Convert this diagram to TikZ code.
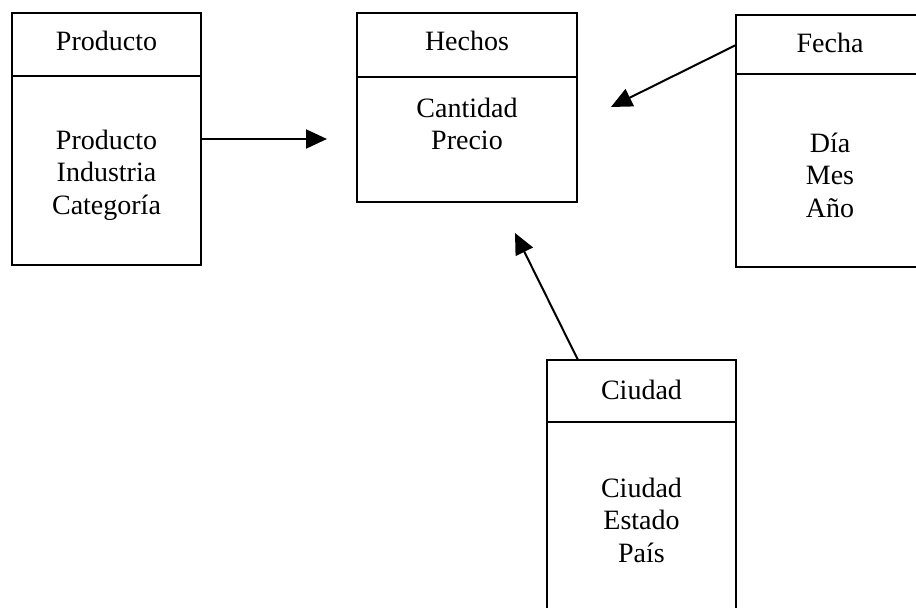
\documentclass[tikz,border=0pt]{standalone}
\usepackage{fontspec}
\setmainfont{Liberation Serif}
\usetikzlibrary{arrows.meta}
\begin{document}
\begin{tikzpicture}[x=0.5pt,y=-0.5pt,
  box/.style={draw=black,line width=1pt,inner sep=0pt,outer sep=0pt,rectangle},
  lbl/.style={inner sep=0pt,outer sep=0pt,font=\fontsize{14pt}{16.25pt}\selectfont},
  body/.style={lbl,align=center,anchor=north},
  divline/.style={line width=1pt},
  arr/.style={line width=1pt,-{Triangle[length=10.5pt,width=9.5pt]}}]
\useasboundingbox (0,0) rectangle (916,608);
\clip (0,0) rectangle (916,608);
% boxes
\node[box,minimum width=94.5pt,minimum height=126pt] (prod) at (106.5,139) {};
\node[box,minimum width=110pt,minimum height=94.5pt] (hech) at (467,107.5) {};
\node[box,minimum width=94pt,minimum height=126pt] (fech) at (830,141) {};
\node[box,minimum width=94.5pt,minimum height=126pt] (ciud) at (641.5,486) {};
% dividers
\draw[divline] (prod.west |- 0,76) -- (prod.east |- 0,76);
\draw[divline] (hech.west |- 0,77) -- (hech.east |- 0,77);
\draw[divline] (fech.west |- 0,74) -- (fech.east |- 0,74);
\draw[divline] (ciud.west |- 0,422) -- (ciud.east |- 0,422);
% headers
\node[lbl,anchor=base] (prodh) at (106.5,51) {Producto};
\node[lbl,anchor=base] (hechh) at (467,51) {Hechos};
\node[lbl,anchor=base] (fechh) at (830,53) {Fecha};
\node[lbl,anchor=base] (ciudh) at (641.5,400) {Ciudad};
% bodies
\node[body] (prodb) at (106.5,130) {Producto\\Industria\\Categoría};
\node[body] (hechb) at (467,98) {Cantidad\\Precio};
\node[body] (fechb) at (830,133) {Día\\Mes\\Año};
\node[body] (ciudb) at (641.5,478) {Ciudad\\Estado\\País};
% arrow tips
\coordinate (t1) at (327,139);
\coordinate (t2) at (611,107);
\coordinate (t3) at (515,233);
\draw[arr] (prod.east) -- (t1);
\draw[arr] ([yshift=-15pt]fech.north west) -- (t2);
\draw[arr] ([xshift=15.5pt]ciud.north west) -- (t3);
\end{tikzpicture}
\end{document}
